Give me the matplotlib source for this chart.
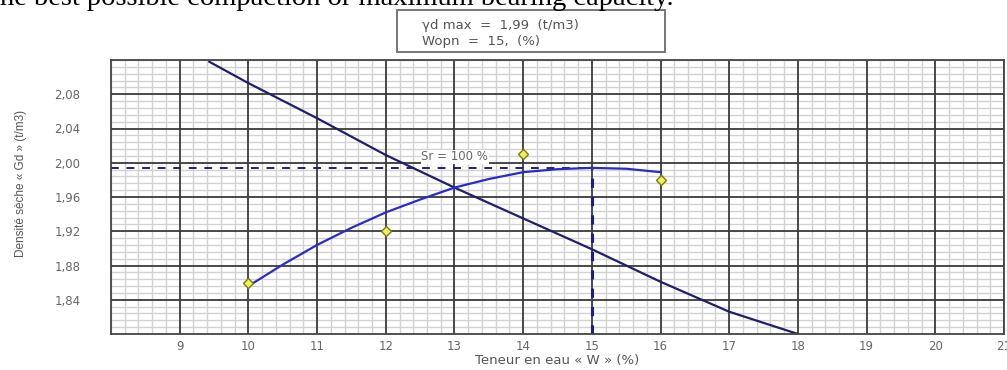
import numpy as np
import matplotlib
matplotlib.use("Agg")
import matplotlib.pyplot as plt
from matplotlib.patches import Rectangle
from matplotlib.ticker import MultipleLocator, FixedLocator

# essai Proctor : points mesures
points_w = [10, 12, 14, 16]
points_gd = [1.86, 1.92, 2.01, 1.98]

# courbe de compactage
curve_w = [10, 10.5, 11, 11.5, 12, 12.5, 13, 13.5, 14, 14.5, 15, 15.5, 16]
curve_gd = [1.856, 1.881, 1.904, 1.924, 1.942, 1.957, 1.971, 1.981, 1.989,
            1.9925, 1.994, 1.993, 1.989]

# courbe de saturation Sr = 100 %
sat_w = [9.43, 10, 11, 12, 13, 14, 15, 16, 17, 18]
sat_gd = [2.118, 2.093, 2.052, 2.009, 1.971, 1.935, 1.899, 1.861, 1.826, 1.80]

w_opt = 15
gd_max = 1.994

x_ticks = [9, 10, 11, 12, 13, 14, 15, 16, 17, 18, 19, 20, 21]
y_ticks = [1.84, 1.88, 1.92, 1.96, 2.00, 2.04, 2.08]
y_labels = ["1,84", "1,88", "1,92", "1,96", "2,00", "2,04", "2,08"]

W, H = 1007, 370
fig = plt.figure(figsize=(W / 100, H / 100), dpi=100)
ax = fig.add_axes([111 / W, 1 - 334 / H, (1004 - 111) / W, (334 - 60) / H])

ax.set_xlim(8, 21)
ax.set_ylim(1.80, 2.12)

ax.xaxis.set_major_locator(FixedLocator(x_ticks))
ax.xaxis.set_minor_locator(MultipleLocator(0.2))
ax.yaxis.set_major_locator(FixedLocator(y_ticks))
ax.yaxis.set_minor_locator(MultipleLocator(0.008))
ax.set_yticklabels(y_labels)

# quadrillage fin puis quadrillage principal par-dessus
ax.grid(which="minor", color="#d2d2d2", lw=1.0)
ax.set_axisbelow(True)
for xv in x_ticks:
    ax.axvline(xv, color="#3a3a3a", lw=1.3, zorder=0.8)
for yv in y_ticks:
    ax.axhline(yv, color="#3a3a3a", lw=1.3, zorder=0.8)
for s in ax.spines.values():
    s.set_color("#444444")
    s.set_linewidth(1.3)

ax.tick_params(axis="both", which="both", length=0, labelcolor="#666666",
               labelsize=8.5)
ax.tick_params(axis="x", pad=4)
ax.tick_params(axis="y", pad=22)

# lignes de lecture de l'optimum
ax.plot([8, w_opt], [gd_max, gd_max], color="#22225e", lw=1.4,
        dashes=(4, 4))
ax.plot([w_opt, w_opt], [1.80, gd_max], color="#1c1c8a", lw=2.2,
        dashes=(3, 3))

ax.plot(sat_w, sat_gd, color="#1f1f6b", lw=1.6)
ax.plot(curve_w, curve_gd, color="#2b2bc8", lw=1.6)
ax.plot(points_w, points_gd, linestyle="none", marker="D", markersize=5,
        markerfacecolor="#f2f25a", markeredgecolor="#7a7a10",
        markeredgewidth=1.0)

ax.text(12.52, 2.007, "Sr = 100 %", fontsize=8.5, color="#666666",
        va="center", ha="left",
        bbox=dict(facecolor="white", edgecolor="none", pad=0.5))

ax.set_xlabel("Teneur en eau « W » (%)", fontsize=9.5, color="#555555",
              labelpad=1)
ax.set_ylabel("Densité sèche « Gd » (t/m3)", fontsize=8.5,
              color="#555555", family="Liberation Sans", labelpad=20)
ax.yaxis.set_label_coords(-84 / 893, 0.55)

# encadre des resultats
fig.patches.append(Rectangle((397 / W, 1 - 52 / H), 268 / W, 42 / H,
                             transform=fig.transFigure, facecolor="white",
                             edgecolor="#777777", lw=1.4))
fig.text(422 / W, 1 - 25 / H, "γd max  =  1,99  (t/m3)", fontsize=9.5,
         color="#555555", va="center", ha="left")
fig.text(422 / W, 1 - 42 / H, "Wopn  =  15,  (%)", fontsize=9.5,
         color="#555555", va="center", ha="left")

# texte du document coupe en haut
fig.text(0.0, 1 - 5 / H, "he best possible compaction or maximum bearing capacity.",
         fontsize=20.5, family="Liberation Serif", color="black",
         va="baseline", ha="left")

fig.savefig("out.png", dpi=100)
